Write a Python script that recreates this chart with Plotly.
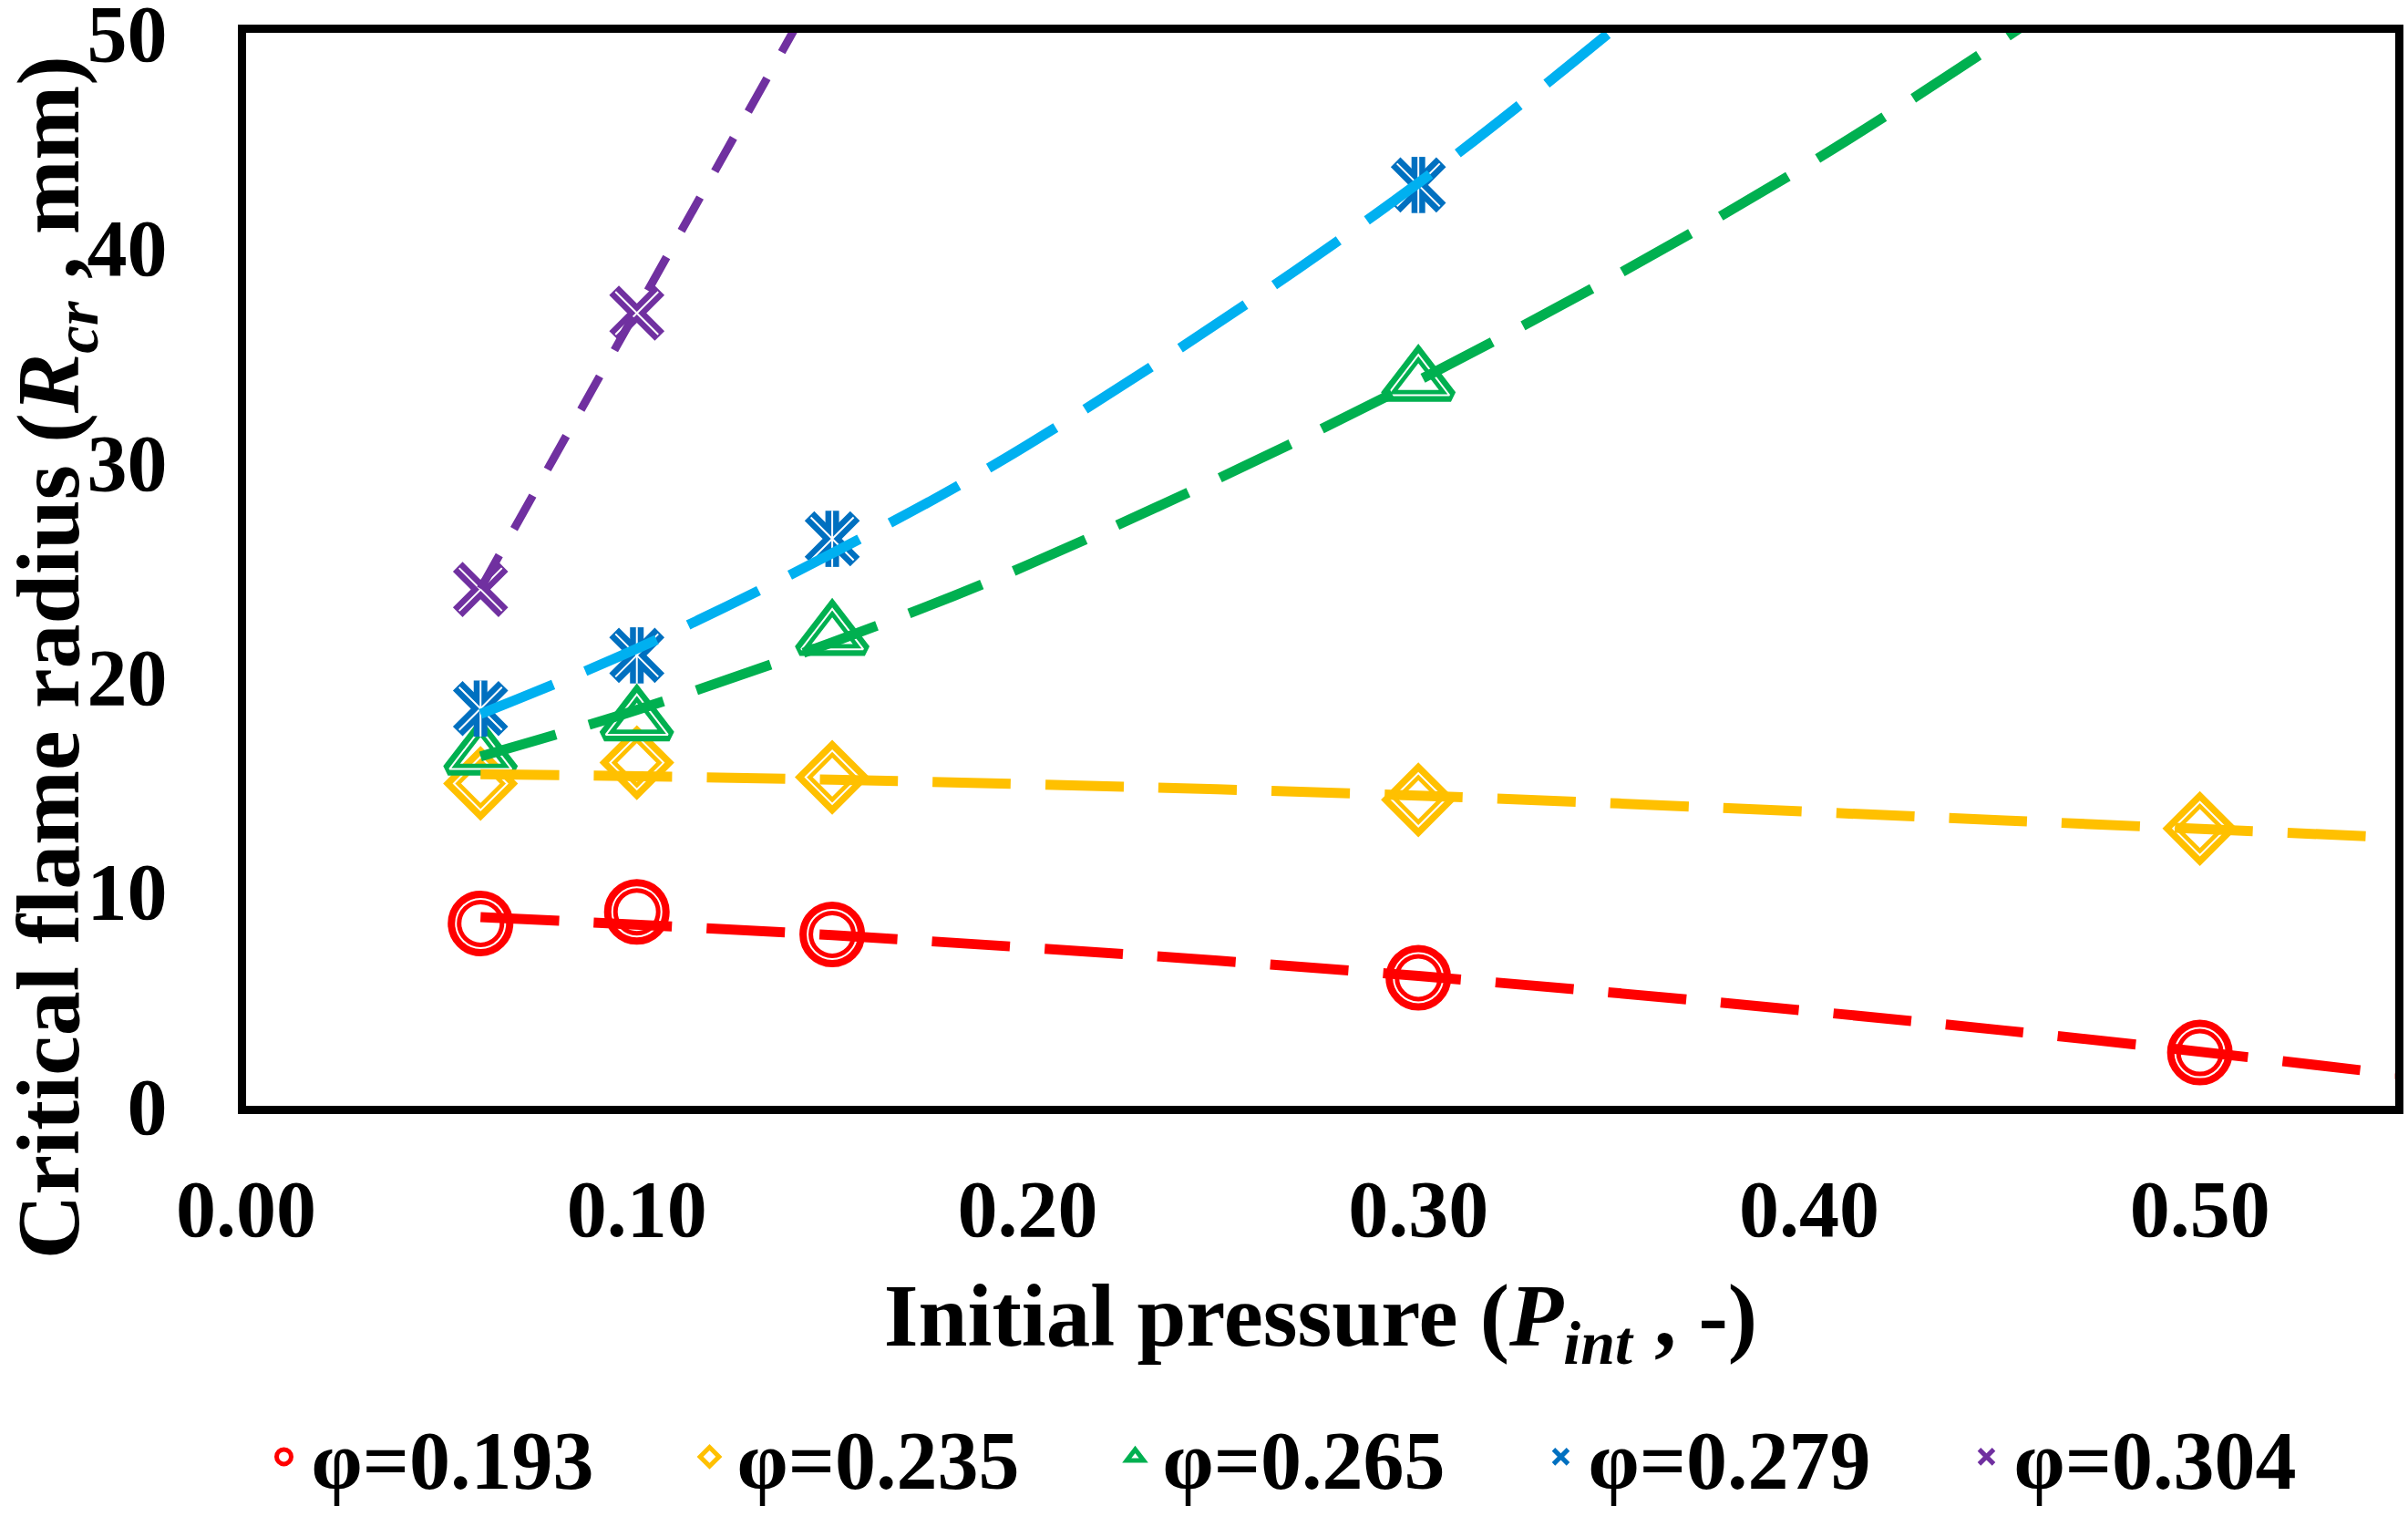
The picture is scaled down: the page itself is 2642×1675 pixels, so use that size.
import plotly.graph_objects as go

# measured points (initial pressure vs critical flame radius, mm)
pressure = [0.06, 0.10, 0.15, 0.30, 0.50]
rcr_193 = [8.50, 9.04, 7.99, 5.97, 2.48]
rcr_235 = [15.02, 15.99, 15.31, 14.26, 12.92]
rcr_265 = [16.32, 17.92, 21.90, 33.74]
rcr_279 = [18.51, 20.99, 26.42, 42.91]
rcr_304 = [24.06, 36.94]

# trendlines
trend_193_x = [0.06, 0.15, 0.30, 0.45, 0.55]
trend_193_y = [8.79, 7.95, 6.05, 3.51, 1.47]
trend_235_x = [0.06, 0.15, 0.30, 0.45, 0.55]
trend_235_y = [15.45, 15.20, 14.45, 13.30, 12.50]
trend_265_x = [0.06, 0.10, 0.15, 0.20, 0.30, 0.40, 0.50]
trend_265_y = [16.28, 18.45, 21.60, 25.20, 33.80, 43.90, 55.90]
trend_279_x = [0.06, 0.10, 0.15, 0.20, 0.30, 0.40]
trend_279_y = [18.26, 21.30, 25.75, 30.80, 43.00, 57.80]
trend_304_x = [0.06, 0.15]
trend_304_y = [24.10, 53.30]

labels = ["φ=0.193", "φ=0.235", "φ=0.265", "φ=0.279", "φ=0.304"]
x_ticks = [0.0, 0.1, 0.2, 0.3, 0.4, 0.5]

series = [
    dict(name=labels[0], y=rcr_193, symbol="circle-open", size=57, lw=15,
         mc="#FF0000", lc="#FF0000", tx=trend_193_x, ty=trend_193_y, dash="86px,38px", w=11),
    dict(name=labels[1], y=rcr_235, symbol="diamond-open", size=48, lw=14,
         mc="#FFC000", lc="#FFC000", tx=trend_235_x, ty=trend_235_y, dash="86px,38px", w=11),
    dict(name=labels[2], y=rcr_265, symbol="triangle-up-open", size=62, lw=13,
         mc="#00B050", lc="#00B050", tx=trend_265_x, ty=trend_265_y, dash="86px,38px", w=11),
    dict(name=labels[3], y=rcr_279, symbol="x-thin", size=50, lw=15,
         mc="#0070C0", lc="#00B0F0", tx=trend_279_x, ty=trend_279_y, dash="86px,38px", w=11),
    dict(name=labels[4], y=rcr_304, symbol="x-thin", size=50, lw=15,
         mc="#7030A0", lc="#7030A0", tx=trend_304_x, ty=trend_304_y, dash="42px,33px", w=9),
]

fig = go.Figure()

# markers first (Excel draws trendlines on top)
for s in series:
    xs = pressure[:len(s["y"])]
    fig.add_trace(go.Scatter(
        x=xs, y=s["y"], mode="markers", name=s["name"],
        marker=dict(symbol=s["symbol"], size=s["size"], color=s["mc"],
                    line=dict(width=s["lw"], color=s["mc"])),
    ))
    if s["name"] == labels[3]:
        # star marker = x plus vertical bar
        fig.add_trace(go.Scatter(
            x=xs, y=s["y"], mode="markers", showlegend=False, hoverinfo="skip",
            marker=dict(symbol="line-ns", size=44, color=s["mc"],
                        line=dict(width=s["lw"], color=s["mc"])),
        ))
        fig.add_trace(go.Scatter(
            x=xs, y=s["y"], mode="markers", showlegend=False, hoverinfo="skip",
            marker=dict(symbol="line-ns", size=44, color="white",
                        line=dict(width=2, color="white")),
        ))
    # thin white line inside the marker outline (double-line look)
    fig.add_trace(go.Scatter(
        x=xs, y=s["y"], mode="markers", showlegend=False, hoverinfo="skip",
        marker=dict(symbol=s["symbol"], size=s["size"] - 3, color="white",
                    line=dict(width=2, color="white")),
    ))

for s in series:
    fig.add_trace(go.Scatter(
        x=s["tx"], y=s["ty"], mode="lines", showlegend=False, hoverinfo="skip",
        line=dict(color=s["lc"], width=s["w"], dash=s["dash"], shape="spline"),
    ))

axis_style = dict(showline=True, linewidth=9, linecolor="black", mirror=True,
                  showgrid=False, zeroline=False, ticks="", automargin=False,
                  tickfont=dict(size=88), ticklabeloverflow="allow")

fig.update_xaxes(range=[0, 0.55], tickvals=x_ticks, tickformat=".2f",
                 ticklabelstandoff=28,
                 title=dict(text="Initial pressure (<i>P</i><sub><i>int</i></sub> , -)",
                            font=dict(size=97), standoff=38),
                 **axis_style)
fig.update_yaxes(range=[0, 50], dtick=10, ticklabelstandoff=60, **axis_style)

fig.update_layout(
    width=2642, height=1675,
    margin=dict(l=270, r=14, t=36, b=453),
    plot_bgcolor="white", paper_bgcolor="white",
    font=dict(family="Liberation Serif", weight="bold", color="black", size=88),
    legend=dict(orientation="h", x=0.5, xanchor="center", y=-0.327, yanchor="middle",
                font=dict(size=90), itemwidth=50, entrywidth=402, itemsizing="trace"),
    annotations=[dict(
        text="Critical flame radius (<i>R</i><sub><i>cr</i></sub> , mm)",
        xref="paper", yref="paper", x=-0.0890, y=0.418, textangle=-90,
        xanchor="center", yanchor="middle", showarrow=False, font=dict(size=98),
    )],
)

fig.write_html("out.html", config={"displayModeBar": False},
               post_script="document.body.style.margin='0';")
